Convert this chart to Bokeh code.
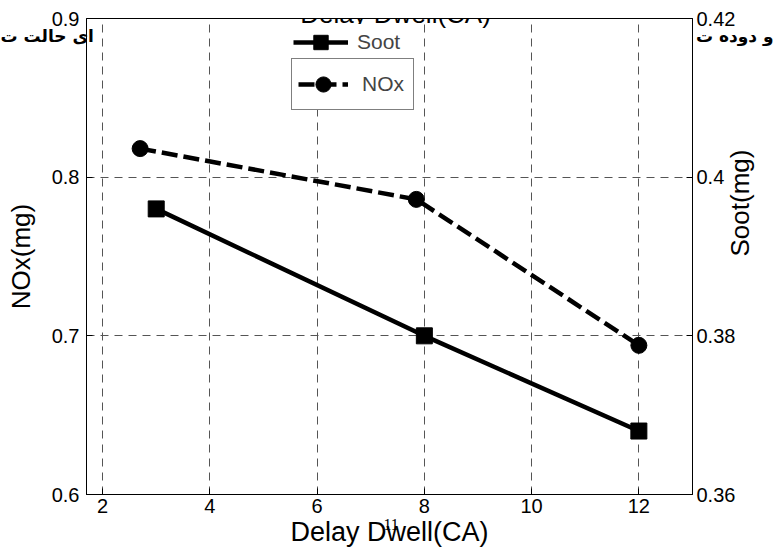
import math
from bokeh.plotting import figure
from bokeh.models import Range1d, LinearAxis, FixedTicker, Legend, LegendItem, Label
from bokeh.embed import file_html
from bokeh.resources import INLINE

# ---------------- data ----------------
delay_soot = [3, 8, 12]
soot_mg = [0.396, 0.380, 0.368]
delay_nox = [2.7, 7.85, 12]
nox_mg = [0.818, 0.786, 0.694]

x_ticks = [2, 4, 6, 8, 10, 12]
x_tick_labels = ["2", "4", "6", "8", "10", "12"]
nox_ticks = [0.6, 0.7, 0.8, 0.9]
nox_tick_labels = ["0.6", "0.7", "0.8", "0.9"]
soot_ticks = [0.36, 0.38, 0.4, 0.42]
soot_tick_labels = ["0.36", "0.38", "0.4", "0.42"]

x_label = "Delay Dwell(CA)"
title_text = "Delay Dwell(CA)"
nox_label = "NOx(mg)"
soot_label = "Soot(mg)"
soot_name = "Soot"
nox_name = "NOx"
caption_left = "ای حالت ت"
caption_right = "و دوده ت"
page_number = "11"

FONT = "Liberation Sans"
X_MIN, X_MAX = 1.7, 13.0

# ---------------- figure ----------------
p = figure(width=773, height=550, title=None,
           x_range=Range1d(X_MIN, X_MAX), y_range=Range1d(0.6, 0.9),
           output_backend="svg", toolbar_location=None,
           min_border_left=86, min_border_right=80,
           min_border_top=18, min_border_bottom=56)
p.extra_y_ranges = {"soot": Range1d(0.36, 0.42)}
p.background_fill_color = "white"
p.border_fill_color = "white"
p.outline_line_color = "black"
p.outline_line_width = 1
p.outline_line_alpha = 1.0

bottom_axis = p.below[0]
left_axis = p.left[0]
right_axis = LinearAxis(y_range_name="soot")
p.add_layout(right_axis, "right")

bottom_axis.ticker = FixedTicker(ticks=x_ticks)
bottom_axis.major_label_overrides = dict(zip(x_ticks, x_tick_labels))
left_axis.ticker = FixedTicker(ticks=nox_ticks)
left_axis.major_label_overrides = dict(zip(nox_ticks, nox_tick_labels))
right_axis.ticker = FixedTicker(ticks=soot_ticks)
right_axis.major_label_overrides = dict(zip(soot_ticks, soot_tick_labels))

for ax in [bottom_axis, left_axis, right_axis]:
    ax.major_tick_in = 6
    ax.major_tick_out = 0
    ax.major_tick_line_color = "black"
    ax.minor_tick_line_color = None
    ax.axis_line_color = "black"
    ax.major_label_text_font = FONT
    ax.major_label_text_font_size = "20px"
    ax.major_label_text_color = "black"
    ax.axis_label_text_font = FONT
    ax.axis_label_text_font_style = "normal"
    ax.axis_label_text_color = "black"

bottom_axis.major_label_standoff = 4
bottom_axis.axis_label = x_label
bottom_axis.axis_label_text_font_size = "27px"
bottom_axis.axis_label_standoff = 1

left_axis.major_label_standoff = 7
left_axis.axis_label = nox_label
left_axis.axis_label_text_font_size = "26px"
left_axis.axis_label_standoff = 13

right_axis.major_label_standoff = 4
right_axis.axis_label = soot_label
right_axis.axis_label_text_font_size = "26px"
right_axis.axis_label_standoff = 2
if hasattr(right_axis, "axis_label_orientation"):
    right_axis.axis_label_orientation = math.pi / 2

p.xgrid[0].ticker = FixedTicker(ticks=x_ticks)
p.ygrid[0].ticker = FixedTicker(ticks=nox_ticks)
for g in [p.xgrid[0], p.ygrid[0]]:
    g.grid_line_color = "#555555"
    g.grid_line_alpha = 1.0
    g.grid_line_width = 1
    g.grid_line_dash = "8 6"

# ---------------- series ----------------
soot_line = p.line(delay_soot, soot_mg, y_range_name="soot",
                   line_color="black", line_width=4.5)
soot_pts = p.scatter(delay_soot, soot_mg, y_range_name="soot",
                     marker="square", size=16, color="black")
nox_line = p.line(delay_nox, nox_mg, line_color="black", line_width=4.5,
                  line_dash="16 6")
nox_pts = p.scatter(delay_nox, nox_mg, marker="circle", size=16, color="black")

# ---------------- legends ----------------
leg_soot = Legend(items=[LegendItem(label=soot_name, renderers=[soot_line, soot_pts])],
                  location=(207, 434), padding=0, margin=0, spacing=0,
                  glyph_width=55, glyph_height=36, label_standoff=9,
                  label_text_font=FONT, label_text_font_size="21px",
                  border_line_color=None, background_fill_color="white",
                  background_fill_alpha=1.0)
leg_nox = Legend(items=[LegendItem(label=nox_name, renderers=[nox_line, nox_pts])],
                 location=(205, 384), padding=6, margin=0, spacing=0,
                 glyph_width=50, glyph_height=38, label_standoff=14, label_width=45,
                 label_text_font=FONT, label_text_font_size="21px",
                 border_line_color="black", border_line_width=1,
                 background_fill_color="white", background_fill_alpha=1.0)
p.add_layout(leg_soot, "center")
p.add_layout(leg_nox, "center")

# ---------------- title text (above the frame) ----------------
p.add_layout(Label(x=309, y=481, x_units="screen", y_units="screen",
                   text=title_text, text_font=FONT, text_font_size="26px",
                   text_color="black", text_align="center",
                   text_baseline="alphabetic", level="overlay"))

# ---------------- caption fragments at the two top corners ----------------
NBSP = "\u00a0"
caption_axis = LinearAxis(ticker=FixedTicker(ticks=[X_MIN, X_MAX]),
                          major_label_overrides={X_MIN: caption_left + NBSP * 16,
                                                 X_MAX: NBSP * 16 + caption_right})
caption_axis.axis_line_color = None
caption_axis.major_tick_line_color = None
caption_axis.minor_tick_line_color = None
caption_axis.major_tick_in = 0
caption_axis.major_tick_out = 0
caption_axis.major_label_standoff = -27
caption_axis.major_label_text_font = "DejaVu Sans"
caption_axis.major_label_text_font_style = "bold"
caption_axis.major_label_text_font_size = "17px"
caption_axis.major_label_text_color = "black"
p.add_layout(caption_axis, "above")

# ---------------- page number under the axis ----------------
PAGE_X = 7.38
page_axis = LinearAxis(ticker=FixedTicker(ticks=[PAGE_X]),
                       major_label_overrides={PAGE_X: page_number})
page_axis.axis_line_color = None
page_axis.major_tick_line_color = None
page_axis.minor_tick_line_color = None
page_axis.major_tick_in = 0
page_axis.major_tick_out = 0
page_axis.major_label_standoff = -31
page_axis.major_label_text_font = "Liberation Serif"
page_axis.major_label_text_font_size = "16px"
page_axis.major_label_text_color = "black"
p.add_layout(page_axis, "below")

open("out.html", "w").write(file_html(p, INLINE))
